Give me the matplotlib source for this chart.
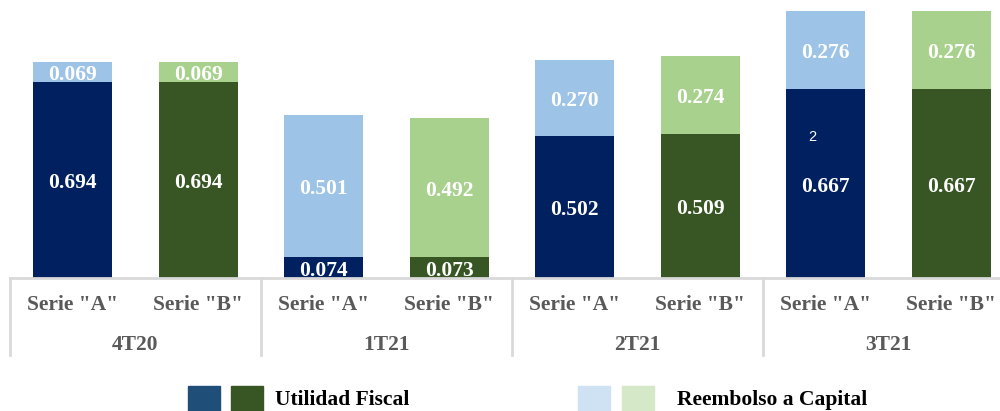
import matplotlib
matplotlib.use("Agg")
import matplotlib.pyplot as plt
from matplotlib.patches import Rectangle
from matplotlib.lines import Line2D
from matplotlib.transforms import offset_copy

groups = ["4T20", "1T21", "2T21", "3T21"]
series = ['Serie "A"', 'Serie "B"']
utilidad = [0.694, 0.694, 0.074, 0.073, 0.502, 0.509, 0.667, 0.667]
reembolso = [0.069, 0.069, 0.501, 0.492, 0.270, 0.274, 0.276, 0.276]

dark_cols = ["#002060", "#375623"]
light_cols = ["#9dc3e6", "#a9d18e"]
legend_dark = ["#1f4e79", "#375623"]
legend_light = ["#cfe2f3", "#d5e8c8"]

W, H = 1000, 411
fig = plt.figure(figsize=(W / 100, H / 100), dpi=100)
serif = ["Liberation Serif", "DejaVu Serif"]

slot = 125.5
ax_left, ax_bottom = 10, 133
ax = fig.add_axes([ax_left / W, ax_bottom / H, (W - ax_left) / W, (H - ax_bottom) / H])
ax.set_xlim(-0.5, -0.5 + (W - ax_left) / slot)
ax.set_ylim(0, (H - ax_bottom) / 283.0)
ax.axis("off")

# shift labels down by ~3 px (0.03 inch at 100 dpi)
tr = offset_copy(ax.transData, fig=fig, x=0, y=-3, units="dots")

xs = list(range(len(utilidad)))
for i in xs:
    c = i % 2
    ax.bar(i, utilidad[i], width=0.63, color=dark_cols[c], zorder=2)
    ax.bar(i, reembolso[i], bottom=utilidad[i], width=0.63, color=light_cols[c], zorder=2)
    ax.text(i, utilidad[i] / 2, f"{utilidad[i]:.3f}", ha="center", va="center",
            color="white", fontsize=15.5, fontweight="bold", family=serif, zorder=3,
            transform=tr)
    ax.text(i, utilidad[i] + reembolso[i] / 2, f"{reembolso[i]:.3f}", ha="center",
            va="center", color="white", fontsize=15.5, fontweight="bold", family=serif,
            zorder=3, transform=tr)

# stray label
ax.text(6 - 0.11, 0.509, "2", ha="center", va="center", color="white", fontsize=10.5,
        family=["Liberation Sans", "DejaVu Sans"], zorder=3, transform=tr)

grey = "#d9d9d9"
def fx(px):
    return px / W
def fy(py):
    return 1 - py / H

fig.add_artist(Line2D([fx(ax_left), 1], [fy(278), fy(278)], color=grey, lw=2, transform=fig.transFigure))
for g in range(len(groups) + 1):
    xp = ax_left + g * 2 * slot
    fig.add_artist(Line2D([fx(xp), fx(xp)], [fy(278), fy(355)], color=grey, lw=2,
                          transform=fig.transFigure))

label_col = "#595959"
for i in xs:
    xp = ax_left + (i + 0.5) * slot
    fig.text(fx(xp), fy(305), series[i % 2], ha="center", va="center", color=label_col,
             fontsize=15.5, fontweight="bold", family=serif)
for g, name in enumerate(groups):
    xp = ax_left + (2 * g + 1) * slot
    fig.text(fx(xp), fy(345), name, ha="center", va="center", color=label_col,
             fontsize=15.5, fontweight="bold", family=serif)

def swatch(x0, color):
    fig.add_artist(Rectangle((fx(x0), fy(411)), 32 / W, 25 / H, color=color,
                             transform=fig.transFigure))

swatch(188, legend_dark[0])
swatch(231, legend_dark[1])
fig.text(fx(275), fy(400), "Utilidad Fiscal", ha="left", va="center", color="black",
         fontsize=15.5, fontweight="bold", family=serif)
swatch(578, legend_light[0])
swatch(622, legend_light[1])
fig.text(fx(677), fy(400), "Reembolso a Capital", ha="left", va="center", color="black",
         fontsize=15.5, fontweight="bold", family=serif)

fig.savefig("out.png", dpi=100)
